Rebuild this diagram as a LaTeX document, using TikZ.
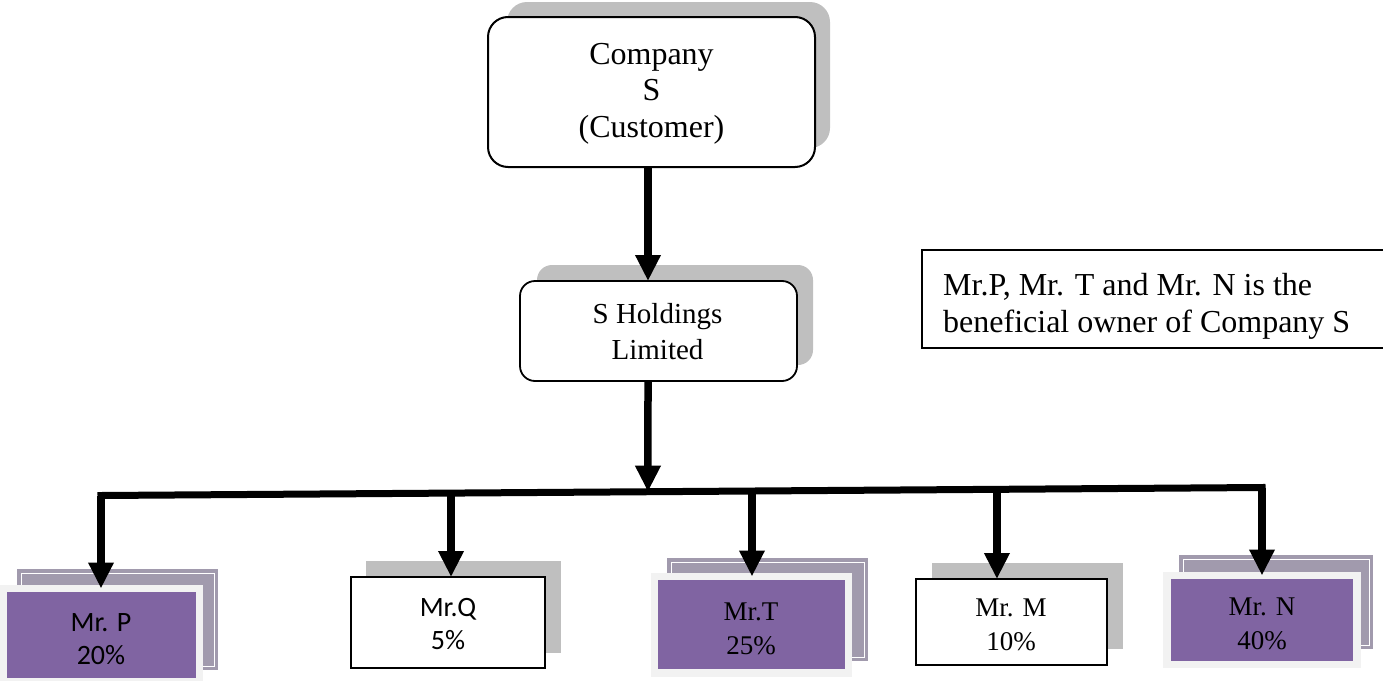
\documentclass[tikz,border=0pt]{standalone}
\usepackage{fontspec}
\setmainfont{Liberation Serif}
\newfontfamily\calibrifont{Carlito}
\usetikzlibrary{arrows.meta,calc}
\definecolor{boxpurple}{HTML}{8064A2}
\definecolor{backpurple}{HTML}{A19AAD}
\definecolor{rimgrey}{HTML}{F2F2F2}
\definecolor{shadegrey}{HTML}{BFBFBF}

\begin{document}
\begin{tikzpicture}[x=1pt,y=-1pt,
  link/.style={line width=7.5pt, -{Triangle[width=24pt,length=26pt]}},
  bar/.style={line width=7pt, line cap=rect},
  roundbox/.style={draw=black, line width=2pt, fill=white, rounded corners=20pt, inner sep=0pt, outer sep=0pt},
  plainbox/.style={draw=black, line width=1.5pt, fill=white, inner sep=0pt, outer sep=0pt},
  ownerbox/.style={draw=rimgrey, line width=7.5pt, fill=boxpurple, inner sep=0pt, outer sep=0pt},
  caption/.style={inner sep=0pt, align=center},
  sanscap/.style={caption, font=\calibrifont\fontsize{28}{33}\selectfont},
  serifcap/.style={caption, font=\fontsize{27}{34}\selectfont},
  layershade/.style={fill=backpurple},
  layerline/.style={draw=white, line width=1pt},
]
\useasboundingbox (0,0) rectangle (1383,680);

% Company S (customer)
\fill[shadegrey, rounded corners=20pt] (507,2) rectangle (830,148);
\node[roundbox, minimum width=327pt, minimum height=150pt] (cs) at (651.5,92) {};
\node[caption, font=\fontsize{32}{36.5}\selectfont] (cstext) at (651.5,93.5) {Company\\S\\(Customer)};

% S Holdings Limited
\fill[shadegrey, rounded corners=15pt] (537,265) rectangle (813,365);
\node[roundbox, rounded corners=15pt, line width=1.8pt, minimum width=277pt, minimum height=100pt] (sh) at (658.5,331) {};
\node[caption, font=\fontsize{29}{36}\selectfont] (shtext) at (657.5,332) {S Holdings\\Limited};

% note on beneficial ownership
\node[plainbox, fill=none, minimum width=480pt, minimum height=98pt, anchor=north west] (notebox) at (922,250) {};
\node[anchor=west, inner sep=0pt, align=left, font=\fontsize{32}{37}\selectfont] (note) at (943,306.4)
  {Mr.P, Mr. T and Mr. N is the\\beneficial owner of Company S};

% shareholders
\fill[layershade] (17,569) rectangle (218,670);
\path[layerline] (21,573) rectangle (214,666);
\node[ownerbox, minimum width=196pt, minimum height=93pt] (p) at (101.5,635) {};
\node[sanscap] (ptext) at (101,639.5) {Mr. P\\20\%};

\fill[shadegrey] (366,561) rectangle (561,653);
\node[plainbox, minimum width=194pt, minimum height=91pt] (q) at (448,622.5) {};
\node[sanscap] (qtext) at (448,624.5) {Mr.Q\\5\%};

\fill[layershade] (667,558) rectangle (868,661);
\path[layerline] (671,562) rectangle (864,657);
\node[ownerbox, minimum width=194pt, minimum height=96.5pt] (t) at (751.5,624.75) {};
\node[serifcap] (ttext) at (751,628.5) {Mr.T\\25\%};

\fill[shadegrey] (932,563) rectangle (1123,649);
\node[plainbox, minimum width=191pt, minimum height=86pt] (m) at (1011.5,622) {};
\node[serifcap] (mtext) at (1011,624.5) {Mr. M\\10\%};

\fill[layershade] (1179,555) rectangle (1373,649);
\path[layerline] (1183,559) rectangle (1369,645);
\node[ownerbox, minimum width=190pt, minimum height=89pt] (n) at (1262,620) {};
\node[serifcap] (ntext) at (1262,623.5) {Mr. N\\40\%};

% distribution bar and its branch points
\coordinate (bl) at (101,495.5);
\coordinate (br) at (1262,487.5);
\draw[bar] (bl) -- (br);
\coordinate (bs) at ($(bl)!0.4711!(br)$);
\coordinate (bq) at ($(bl)!0.3015!(br)$);
\coordinate (bt) at ($(bl)!0.5607!(br)$);
\coordinate (bm) at ($(bl)!0.7717!(br)$);

% connectors
\draw[link] ([xshift=-3.5pt]cs.south) -- ([xshift=-10.5pt]sh.north);
\draw[link] ([xshift=-10.5pt]sh.south) -- (bs);
\draw[link] (bl) -- (bl |- p.north);
\draw[link] (bq) -- (bq |- q.north);
\draw[link] (bt) -- (bt |- t.north);
\draw[link] (bm) -- (bm |- m.north);
\draw[link] (br) -- (br |- n.north);
\end{tikzpicture}
\end{document}
